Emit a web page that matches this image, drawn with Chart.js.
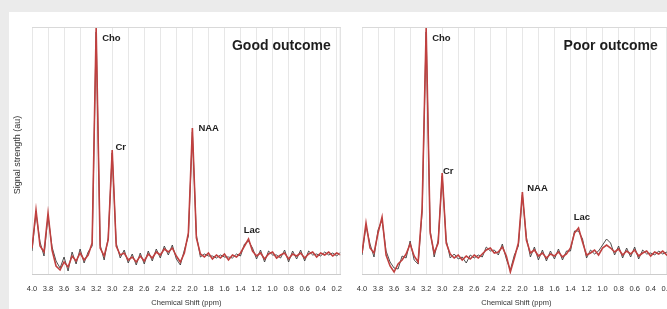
<!DOCTYPE html>
<html>
<head>
<meta charset="utf-8">
<script src="https://cdn.jsdelivr.net/npm/chart.js@4.4.0/dist/chart.umd.min.js"></script>
<style>
  html, body { margin:0; padding:0; width:667px; height:309px; overflow:hidden; background:#ebebeb; }
  #panel { position:absolute; left:9px; top:12px; width:658px; height:297px; background:#ffffff; }
  canvas { position:absolute; top:0; }
  #cA { left:0; }
  #cB { left:345px; }
</style>
</head>
<body>
<div id="panel"></div>
<canvas id="cA" width="352" height="309" style="width:352px;height:309px"></canvas>
<canvas id="cB" width="337" height="309" style="width:337px;height:309px"></canvas>
<script>
// ---- data ----
const ppm = [4.00,3.95,3.90,3.85,3.80,3.75,3.70,3.65,3.60,3.55,3.50,3.45,3.40,3.35,3.30,3.25,3.20,3.15,3.10,3.05,
  3.00,2.95,2.90,2.85,2.80,2.75,2.70,2.65,2.60,2.55,2.50,2.45,2.40,2.35,2.30,2.25,2.20,2.15,2.10,2.05,
  2.00,1.95,1.90,1.85,1.80,1.75,1.70,1.65,1.60,1.55,1.50,1.45,1.40,1.35,1.30,1.25,1.20,1.15,1.10,1.05,
  1.00,0.95,0.90,0.85,0.80,0.75,0.70,0.65,0.60,0.55,0.50,0.45,0.40,0.35,0.30,0.25,0.20,0.15];

const goodFit = [1.0,4.8,1.2,0.6,4.5,0.8,-0.8,-1.2,-0.4,-0.9,
  0.2,-0.3,0.5,-0.2,0.3,1.5,23.0,1.0,0.2,1.8,
  10.8,1.2,0.3,0.5,-0.2,0.1,-0.4,0.2,-0.3,0.4,
  0.0,0.6,0.3,0.9,0.6,1.0,0.2,-0.4,0.5,2.5,
  13.0,2.0,0.4,0.1,0.5,-0.1,0.3,0.0,0.4,-0.2,
  0.3,0.1,0.5,1.2,1.9,0.7,0.2,0.5,-0.1,0.4,
  0.6,0.0,0.3,0.5,-0.1,0.4,0.2,0.5,0.0,0.4,
  0.6,0.1,0.5,0.3,0.6,0.2,0.5,0.3];
const goodData = [0.7,4.5,1.6,0.2,4.2,1.1,-0.3,-1.0,0.1,-1.3,
  0.6,-0.6,0.9,-0.5,0.6,1.2,22.6,1.3,-0.2,2.0,
  10.5,1.5,0.0,0.8,-0.5,0.4,-0.7,0.5,-0.6,0.7,
  -0.3,0.9,0.0,1.2,0.3,1.3,-0.1,-0.7,0.8,2.2,
  12.6,2.3,0.1,0.4,0.2,0.2,0.0,0.3,0.1,0.1,
  0.0,0.4,0.2,1.4,1.7,1.0,-0.1,0.8,-0.4,0.7,
  0.3,0.3,0.0,0.8,-0.4,0.7,-0.1,0.8,-0.3,0.7,
  0.3,0.4,0.2,0.6,0.3,0.5,0.2,0.6];
const poorFit = [0.5,3.5,1.0,0.5,2.5,4.1,0.3,-0.8,-1.4,-0.6,
  -0.2,0.4,1.4,0.2,-0.4,5.0,23.0,2.5,0.5,1.5,
  8.5,1.5,0.4,0.0,0.3,-0.2,0.2,-0.1,0.3,0.0,
  0.4,0.8,1.0,0.5,0.6,1.1,0.2,-1.4,0.0,1.5,
  6.6,1.8,0.5,0.8,0.2,0.5,0.0,0.4,0.2,0.6,
  0.1,0.4,1.0,2.5,3.0,1.6,0.3,0.5,0.8,0.3,
  1.0,1.3,1.0,0.6,0.9,0.3,0.7,0.4,0.8,0.2,
  0.5,0.7,0.2,0.6,0.4,0.7,0.3,0.5];
const poorData = [0.3,3.2,1.4,0.1,2.8,3.8,0.7,-0.4,-1.0,-1.1,
  0.2,0.0,1.7,-0.2,-0.6,4.6,22.6,2.8,0.1,1.8,
  8.2,1.8,0.0,0.4,-0.1,0.1,-0.5,0.3,0.0,0.3,
  0.1,1.1,0.7,0.8,0.3,1.4,-0.1,-1.2,0.3,1.2,
  6.3,2.1,0.1,1.1,-0.2,0.8,-0.3,0.7,-0.1,0.9,
  -0.2,0.7,0.7,2.7,2.7,1.9,0.0,0.8,0.4,0.7,
  1.3,1.9,1.5,0.3,1.2,0.0,1.0,0.1,1.1,-0.1,
  0.8,0.4,0.5,0.3,0.7,0.4,0.6,0.2];

const tickValues = [4.0,3.8,3.6,3.4,3.2,3.0,2.8,2.6,2.4,2.2,2.0,1.8,1.6,1.4,1.2,1.0,0.8,0.6,0.4,0.2];
const tickLabels = ['4.0','3.8','3.6','3.4','3.2','3.0','2.8','2.6','2.4','2.2','2.0','1.8','1.6','1.4','1.2','1.0','0.8','0.6','0.4','0.2'];

const peakNames = ['Cho','Cr','NAA','Lac'];
const goodLabelPpm = [3.125,2.96,1.925,1.36];
const goodLabelVal = [22.0,11.1,13.0,2.8];
const poorLabelPpm = [3.125,2.99,1.94,1.36];
const poorLabelVal = [22.0,8.7,7.0,4.1];

const xTitle = 'Chemical Shift (ppm)';
const yTitle = 'Signal strength (au)';

// ---- chart builder ----
function pts(arr){ return ppm.map((x,i)=>({x:x, y:arr[i]})); }

function makeChart(canvasId, fit, raw, title, lblPpm, lblVal, padLeft, showYTitle, titleRightInset, drawRightFrame){
  const annot = {
    id:'annot',
    afterDraw(chart){
      const ctx = chart.ctx, a = chart.chartArea;
      const xs = chart.scales.x, ys = chart.scales.y;
      ctx.save();
      ctx.strokeStyle = '#d9d9d9';
      ctx.lineWidth = 1;
      ctx.beginPath();
      ctx.moveTo(a.left, a.top + 0.5); ctx.lineTo(a.right, a.top + 0.5);
      if (drawRightFrame){ ctx.moveTo(a.right - 0.5, a.top); ctx.lineTo(a.right - 0.5, a.bottom); }
      ctx.stroke();
      ctx.fillStyle = '#1e1e1e';
      ctx.font = 'bold 14px "Liberation Sans", Arial, sans-serif';
      ctx.textAlign = 'right'; ctx.textBaseline = 'middle';
      ctx.fillText(title, a.right - titleRightInset, a.top + 19);
      ctx.font = 'bold 9.5px "Liberation Sans", Arial, sans-serif';
      ctx.textAlign = 'left';
      for (let i = 0; i < peakNames.length; i++){
        ctx.fillText(peakNames[i], xs.getPixelForValue(lblPpm[i]), ys.getPixelForValue(lblVal[i]));
      }
      if (showYTitle){
        ctx.translate(18, 155);
        ctx.rotate(-Math.PI/2);
        ctx.font = '9px "Liberation Sans", Arial, sans-serif';
        ctx.fillStyle = '#333';
        ctx.textAlign = 'center';
        ctx.fillText(yTitle, 0, 0);
      }
      ctx.restore();
    }
  };
  return new Chart(document.getElementById(canvasId), {
    type:'line',
    data:{ datasets:[
      { data: pts(fit), borderColor:'#c0403f', borderWidth:1.6, pointRadius:0, tension:0, fill:false },
      { data: pts(raw), borderColor:'rgba(60,60,60,0.9)', borderWidth:1, pointRadius:0, tension:0, fill:false }
    ]},
    options:{
      responsive:false, animation:false, devicePixelRatio:1,
      layout:{ padding:{ left:padLeft, right:5, top:27, bottom:0 } },
      plugins:{ legend:{display:false}, tooltip:{enabled:false} },
      scales:{
        x:{
          type:'linear', reverse:true, min:0.15, max:4.0,
          afterBuildTicks(s){ s.ticks = tickValues.map(v=>({value:v})); },
          afterFit(s){ s.height = 35; },
          grid:{ color:'#e7e7e7', lineWidth:1, drawTicks:false },
          border:{ display:true, color:'#cccccc', width:1 },
          ticks:{ padding:10, maxRotation:0, autoSkip:false, color:'#333',
            font:{ family:'"Liberation Sans", Arial, sans-serif', size:7.5 },
            callback(v){ const i = tickValues.findIndex(t=>Math.abs(t-v)<1e-6); return i>=0 ? tickLabels[i] : ''; } },
          title:{ display:true, text:xTitle, color:'#333', padding:{top:0,bottom:2},
            font:{ family:'"Liberation Sans", Arial, sans-serif', size:7.5 } }
        },
        y:{ display:false, min:-1.6, max:23.1 }
      }
    },
    plugins:[annot]
  });
}

makeChart('cA', goodFit, goodData, 'Good outcome', goodLabelPpm, goodLabelVal, 32, true, 10, true);
makeChart('cB', poorFit, poorData, 'Poor outcome', poorLabelPpm, poorLabelVal, 17, false, 13, false);
</script>
</body>
</html>
